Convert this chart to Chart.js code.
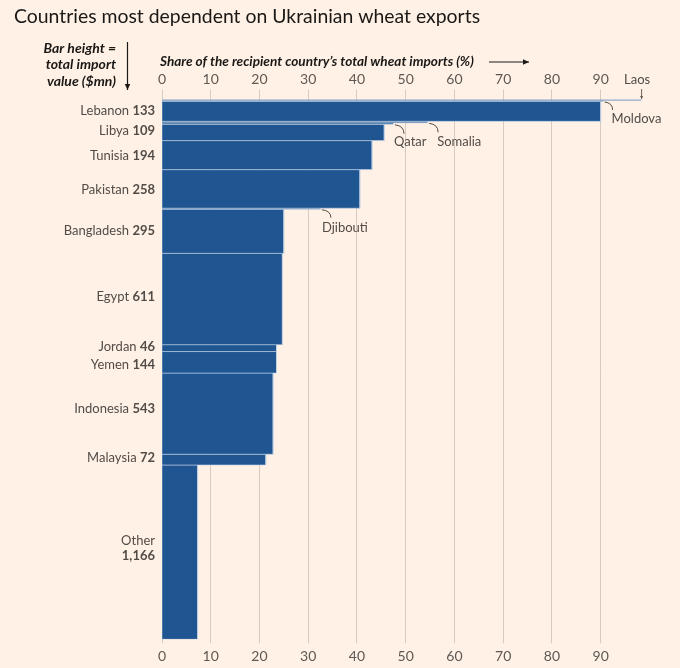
<!DOCTYPE html>
<html><head><meta charset="utf-8">
<script src="https://cdn.jsdelivr.net/npm/chart.js@4"></script>
<style>html,body{margin:0;padding:0;background:#fff1e5}#wrap{width:680px;height:668px}</style>
</head><body><div id="wrap"><canvas id="c" width="680" height="668"></canvas></div>
<script>
// Data (top to bottom)
const countries = ['Laos','Moldova','Lebanon','Somalia','Qatar','Libya','Tunisia','Pakistan','Djibouti','Bangladesh','Egypt','Jordan','Yemen','Indonesia','Malaysia','Other'];
const importValues = [6, 7, 133, 10, 10, 109, 194, 258, 7, 295, 611, 46, 144, 543, 72, 1166]; // $mn, bar height
const shares = [98.3, 90.5, 90, 54.5, 47.5, 45.6, 43.1, 40.6, 32.5, 25.0, 24.7, 23.5, 23.5, 22.8, 21.3, 7.3]; // % of wheat imports
const sideLabelled = ['Lebanon','Libya','Tunisia','Pakistan','Bangladesh','Egypt','Jordan','Yemen','Indonesia','Malaysia','Other'];
const xTickValues = [0,10,20,30,40,50,60,70,80,90];

const BG = '#fff1e5', BAR = '#1f5591', GRID = '#d6cbc0', TXT = '#524c48', DARK = '#1a1817';
const FONT = 'Lato, "Open Sans", sans-serif';
const labelNudge = {Lebanon:-0.5, Libya:-2, Tunisia:0.5, Pakistan:0.5, Bangladesh:0, Egypt:-2, Jordan:-1, Yemen:3, Indonesia:-5, Malaysia:-1.5};

const total = importValues.reduce((a,b)=>a+b,0);
const bounds = [];
let cum = 0;
const datasets = countries.map((c,i)=>{
  const y0 = cum, y1 = cum + importValues[i];
  cum = y1;
  bounds.push([y0,y1]);
  return {
    label: c,
    data: [{x:0,y:y0},{x:shares[i],y:y0},{x:shares[i],y:y1},{x:0,y:y1},{x:0,y:y0}],
    showLine: true, fill: 'shape', tension: 0,
    backgroundColor: BAR, borderColor: 'rgba(200,215,235,0.55)', borderWidth: 1,
    pointRadius: 0, pointHoverRadius: 0
  };
});

function arrow(ctx, x1,y1,x2,y2, head){
  ctx.beginPath(); ctx.moveTo(x1,y1); ctx.lineTo(x2,y2); ctx.stroke();
  const a = Math.atan2(y2-y1,x2-x1);
  ctx.beginPath();
  ctx.moveTo(x2,y2);
  ctx.lineTo(x2-head*Math.cos(a)+head*0.45*Math.sin(a), y2-head*Math.sin(a)-head*0.45*Math.cos(a));
  ctx.lineTo(x2-head*Math.cos(a)-head*0.45*Math.sin(a), y2-head*Math.sin(a)+head*0.45*Math.cos(a));
  ctx.closePath(); ctx.fill();
}

const annot = {
  id: 'annot',
  afterDraw(chart){
    const {ctx} = chart; const xs = chart.scales.x, ys = chart.scales.y;
    ctx.save();
    // Title
    ctx.fillStyle = DARK; ctx.font = '19.4px ' + FONT; ctx.textBaseline = 'middle'; ctx.textAlign = 'left';
    ctx.fillText('Countries most dependent on Ukrainian wheat exports', 14, 17);
    // Left caption
    ctx.fillStyle = DARK; ctx.font = 'italic bold 14px ' + FONT; ctx.textAlign = 'right';
    ctx.fillText('Bar height =', 116, 48);
    ctx.fillText('total import', 116, 64);
    ctx.fillText('value ($mn)', 116, 81);
    ctx.strokeStyle = DARK; ctx.lineWidth = 1.2;
    arrow(ctx, 127.5, 42, 127.5, 90, 6);
    // Axis caption
    ctx.textAlign = 'left'; ctx.font = 'italic bold 13.6px ' + FONT;
    ctx.fillText('Share of the recipient country\u2019s total wheat imports (%)', 160, 62);
    arrow(ctx, 489, 62, 529, 62, 6);
    // Side labels
    countries.forEach((c,i)=>{
      if (!sideLabelled.includes(c)) return;
      const mid = ys.getPixelForValue((bounds[i][0]+bounds[i][1])/2);
      const num = importValues[i].toLocaleString('en-US');
      ctx.textAlign = 'right'; ctx.fillStyle = TXT;
      if (c === 'Other') {
        ctx.font = '13px ' + FONT; ctx.fillText('Other', 155, mid - 11.5);
        ctx.font = 'bold 13px ' + FONT; ctx.fillText(num, 155, mid + 3.5);
        return;
      }
      const y = mid + (labelNudge[c] || 0);
      ctx.font = 'bold 13px ' + FONT;
      const w = ctx.measureText(num).width;
      ctx.fillText(num, 155, y);
      ctx.font = '13px ' + FONT;
      ctx.fillText(c + ' ', 155 - w, y);
    });
    // Callouts
    ctx.strokeStyle = TXT; ctx.lineWidth = 1; ctx.fillStyle = TXT; ctx.font = '13px ' + FONT; ctx.textAlign = 'left';
    const callout = (name, dx, dy, lx, ly) => {
      const i = countries.indexOf(name);
      const x = xs.getPixelForValue(shares[i]) + 1.5;
      const y = ys.getPixelForValue(bounds[i][1]) + 0.5;
      ctx.beginPath(); ctx.moveTo(x, y); ctx.quadraticCurveTo(x + dx, y + 1, x + dx, y + dy); ctx.stroke();
      ctx.fillText(name, x + lx, y + ly);
    };
    callout('Moldova', 8, 8, 7, 17);
    callout('Somalia', 9, 9, 8, 18);
    callout('Qatar', 9, 9, -1, 17);
    callout('Djibouti', 9, 8, 0, 18);
    // Laos
    const li = countries.indexOf('Laos');
    const lx = xs.getPixelForValue(shares[li]);
    ctx.textAlign = 'center'; ctx.fillStyle = TXT;
    ctx.fillText('Laos', lx - 4, 80);
    ctx.strokeStyle = '#6a635e';
    arrow(ctx, lx + 0.5, 89, lx + 0.5, 99, 3);
    ctx.restore();
  }
};

const tickFont = {family: FONT, size: 14};
new Chart(document.getElementById('c'), {
  type: 'scatter',
  data: { datasets },
  options: {
    responsive: false, animation: false, devicePixelRatio: 1,
    layout: { padding: { left: 162, right: 30.6, top: 69.5, bottom: 0 } },
    plugins: { legend: {display:false}, tooltip: {enabled:false}, title: {display:false} },
    scales: {
      x: {
        type: 'linear', position: 'top', min: 0, max: 100,
        afterBuildTicks: s => { s.ticks = xTickValues.map(v=>({value:v})); },
        afterFit: s => { s.height = 30; },
        grid: { color: GRID, lineWidth: 1, tickLength: 10, tickColor: GRID },
        border: { display: false },
        ticks: { color: '#5e5853', font: tickFont, padding: 2, maxRotation: 0 }
      },
      x2: {
        type: 'linear', position: 'bottom', min: 0, max: 100,
        afterBuildTicks: s => { s.ticks = xTickValues.map(v=>({value:v})); },
        afterFit: s => { s.height = 28.7; },
        grid: { drawOnChartArea: false, color: GRID, tickLength: 4, tickColor: GRID },
        border: { display: false },
        ticks: { color: '#5e5853', font: tickFont, padding: 5, maxRotation: 0 }
      },
      y: { type: 'linear', min: 0, max: total, reverse: true, display: false }
    }
  },
  plugins: [annot]
});
</script></body></html>
